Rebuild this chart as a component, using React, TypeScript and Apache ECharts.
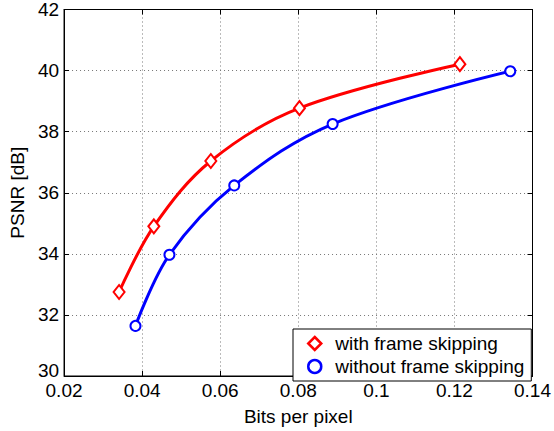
import React, { useEffect, useRef } from "react";
import * as echarts from "echarts";

const seriesNames = ["with frame skipping", "without frame skipping"];
const withSkipX = [0.0341, 0.043, 0.0576, 0.0803, 0.1214];
const withSkipY = [32.75, 34.9, 37.04, 38.77, 40.21];
const withoutSkipX = [0.0383, 0.047, 0.0636, 0.0888, 0.1343];
const withoutSkipY = [31.64, 33.97, 36.24, 38.25, 39.98];
const xRange = [0.02, 0.14];
const yRange = [30, 42];

const FONT = "'Liberation Sans', Arial, Helvetica, sans-serif";
const FS = 19;

export default function App() {
  const ref = useRef<HTMLDivElement>(null);
  useEffect(() => {
    if (!ref.current) return;
    const chart = echarts.init(ref.current, undefined, { renderer: "svg" });
    const zip = (xs: number[], ys: number[]) => xs.map((x, i) => [x, ys[i]]);
    const tickStyle = { show: true, inside: true, length: 5, lineStyle: { color: "#000", width: 1 } };
    chart.setOption({
      animation: false,
      backgroundColor: "#fff",
      textStyle: { fontFamily: FONT },
      grid: { show: true, left: 58, right: 20, top: 8, bottom: 48, borderColor: "#000", borderWidth: 1, backgroundColor: "#fff" },
      xAxis: [
        {
          type: "value",
          min: xRange[0],
          max: xRange[1],
          interval: 0.02,
          name: "Bits per pixel",
          nameLocation: "middle",
          nameGap: 31,
          nameTextStyle: { color: "#000", fontSize: FS, fontFamily: FONT },
          axisLine: { show: true, lineStyle: { color: "#000", width: 1 } },
          axisTick: tickStyle,
          axisLabel: { color: "#000", fontSize: FS, fontFamily: FONT, margin: 5 },
          splitLine: { show: true, lineStyle: { color: "#777", type: [1, 3], width: 1 } },
        },
        {
          type: "value",
          position: "top",
          min: xRange[0],
          max: xRange[1],
          interval: 0.02,
          axisLine: { show: true, lineStyle: { color: "#000" } },
          axisTick: tickStyle,
          axisLabel: { show: false },
          splitLine: { show: false },
        },
      ],
      yAxis: [
        {
          type: "value",
          min: yRange[0],
          max: yRange[1],
          interval: 2,
          name: "PSNR [dB]",
          nameLocation: "middle",
          nameGap: 33,
          nameTextStyle: { color: "#000", fontSize: FS, fontFamily: FONT },
          axisLine: { show: true, lineStyle: { color: "#000", width: 1 } },
          axisTick: tickStyle,
          axisLabel: {
            color: "#000",
            fontSize: FS,
            fontFamily: FONT,
            margin: 5,
            formatter: (v: number) => (v === yRange[0] ? "{low|" + v + "}" : String(v)),
            rich: { low: { color: "#000", fontSize: FS, fontFamily: FONT, padding: [0, 0, 11, 0] } },
          },
          splitLine: { show: true, lineStyle: { color: "#777", type: [1, 3], width: 1 } },
        },
        {
          type: "value",
          position: "right",
          min: yRange[0],
          max: yRange[1],
          interval: 2,
          axisLine: { show: true, lineStyle: { color: "#000" } },
          axisTick: tickStyle,
          axisLabel: { show: false },
          splitLine: { show: false },
        },
      ],
      legend: {
        orient: "vertical",
        left: 293,
        top: 329,
        backgroundColor: "#fff",
        borderColor: "#000",
        borderWidth: 1,
        borderRadius: 0,
        padding: [5, 7, 5, 14],
        itemWidth: 13,
        itemHeight: 13,
        itemGap: 4,
        textStyle: { color: "#000", fontSize: FS, fontFamily: FONT, padding: [0, 0, 0, 9] },
        data: [
          { name: seriesNames[0], icon: "diamond", itemStyle: { color: "#fff", borderColor: "#ff0000", borderWidth: 2.5 } },
          { name: seriesNames[1], icon: "circle", itemStyle: { color: "#fff", borderColor: "#0000ff", borderWidth: 2.5 } },
        ],
      },
      series: [
        {
          name: seriesNames[0],
          type: "line",
          data: zip(withSkipX, withSkipY),
          smooth: 0.35,
          symbol: "emptyDiamond",
          symbolSize: [11, 14],
          color: "#ff0000",
          lineStyle: { color: "#ff0000", width: 3 },
          itemStyle: { color: "#ff0000", borderColor: "#ff0000", borderWidth: 2.5 },
          z: 3,
        },
        {
          name: seriesNames[1],
          type: "line",
          data: zip(withoutSkipX, withoutSkipY),
          smooth: 0.35,
          symbol: "emptyCircle",
          symbolSize: 10,
          color: "#0000ff",
          lineStyle: { color: "#0000ff", width: 3 },
          itemStyle: { color: "#0000ff", borderColor: "#0000ff", borderWidth: 2.5 },
          z: 3,
        },
      ],
    });
    return () => chart.dispose();
  }, []);
  return <div ref={ref} style={{ width: 554, height: 431, position: "absolute", left: 0, top: 0 }} />;
}
